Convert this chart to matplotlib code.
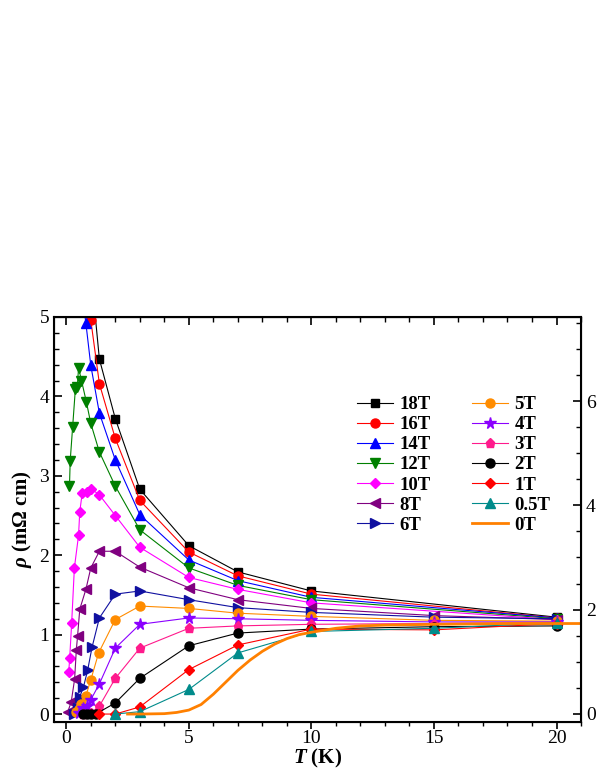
import matplotlib
matplotlib.use("Agg")
import matplotlib.pyplot as plt
from matplotlib.ticker import MultipleLocator

plt.rcParams["font.family"] = ["Liberation Serif", "DejaVu Serif"]
plt.rcParams["mathtext.fontset"] = "custom"
plt.rcParams["mathtext.rm"] = "Liberation Serif:bold"
plt.rcParams["mathtext.it"] = "Liberation Serif:italic:bold"

# resistivity (mOhm cm) vs temperature (K) for each field
t_18 = [1.0, 1.35, 2, 3, 5, 7, 10, 20]
r_18 = [5.6, 4.47, 3.72, 2.83, 2.12, 1.79, 1.55, 1.22]
t_16 = [0.8, 1.0, 1.35, 2, 3, 5, 7, 10, 20]
r_16 = [5.5, 4.96, 4.16, 3.47, 2.69, 2.04, 1.74, 1.51, 1.21]
t_14 = [0.6, 0.8, 1.0, 1.35, 2, 3, 5, 7, 10, 20]
r_14 = [5.4, 4.92, 4.39, 3.79, 3.20, 2.51, 1.94, 1.68, 1.47, 1.21]
t_12 = [0.13, 0.16, 0.26, 0.37, 0.45, 0.5, 0.62, 0.82, 1.0, 1.35, 2, 3, 5, 7, 10, 20]
r_12 = [2.87, 3.19, 3.62, 4.09, 4.12, 4.36, 4.2, 3.93, 3.66, 3.30, 2.87, 2.32, 1.84, 1.62, 1.44, 1.20]
t_10 = [0.1, 0.14, 0.22, 0.33, 0.5, 0.55, 0.65, 0.85, 1.0, 1.35, 2, 3, 5, 7, 10, 20]
r_10 = [0.53, 0.71, 1.15, 1.84, 2.25, 2.55, 2.78, 2.80, 2.84, 2.76, 2.50, 2.10, 1.72, 1.57, 1.40, 1.19]
t_8 = [0.05, 0.2, 0.34, 0.41, 0.46, 0.55, 0.8, 1.0, 1.35, 2, 3, 5, 7, 10, 15, 20]
r_8 = [0.02, 0.15, 0.44, 0.81, 0.98, 1.32, 1.57, 1.84, 2.05, 2.05, 1.85, 1.59, 1.44, 1.33, 1.24, 1.19]
t_6 = [0.3, 0.48, 0.54, 0.7, 0.87, 1.05, 1.35, 2, 3, 5, 7, 10, 15, 20]
r_6 = [0.0, 0.08, 0.21, 0.34, 0.55, 0.84, 1.21, 1.51, 1.55, 1.44, 1.34, 1.28, 1.22, 1.20]
t_5 = [0.4, 0.5, 0.62, 0.8, 1.0, 1.32, 2, 3, 5, 7, 10, 15, 20]
r_5 = [0.02, 0.06, 0.13, 0.23, 0.43, 0.77, 1.19, 1.36, 1.33, 1.27, 1.23, 1.18, 1.17]
t_4 = [0.5, 0.7, 0.85, 1.0, 1.35, 2, 3, 5, 7, 10, 15, 20]
r_4 = [0.01, 0.07, 0.1, 0.18, 0.38, 0.83, 1.13, 1.21, 1.20, 1.18, 1.16, 1.16]
t_3 = [0.7, 1.0, 1.35, 2, 3, 5, 7, 10, 15, 20]
r_3 = [0.0, 0.01, 0.1, 0.45, 0.83, 1.08, 1.11, 1.13, 1.14, 1.15]
t_2 = [0.7, 0.85, 1.0, 1.2, 2, 3, 5, 7, 10, 15, 20]
r_2 = [0.0, 0.0, 0.0, 0.0, 0.14, 0.45, 0.86, 1.02, 1.07, 1.10, 1.11]
t_1 = [1.35, 2, 3, 5, 7, 10, 15, 20]
r_1 = [0.0, 0.0, 0.09, 0.56, 0.87, 1.07, 1.06, 1.14]
t_05 = [2, 3, 5, 7, 10, 15, 20]
r_05 = [0.0, 0.03, 0.31, 0.77, 1.04, 1.08, 1.15]
t_0 = [2.5, 3, 4, 4.5, 5, 5.5, 6, 6.5, 7, 7.5, 8, 8.5, 9, 9.5, 10, 11, 12, 13, 15, 18, 21]
r_0 = [0.0, 0.0, 0.005, 0.02, 0.05, 0.12, 0.25, 0.4, 0.55, 0.68, 0.79, 0.88, 0.95, 1.0, 1.03, 1.08, 1.11, 1.12, 1.13, 1.14, 1.14]

series = [
    ("18T", t_18, r_18, "s", "black"),
    ("16T", t_16, r_16, "o", "red"),
    ("14T", t_14, r_14, "^", "blue"),
    ("12T", t_12, r_12, "v", "#008000"),
    ("10T", t_10, r_10, "D", "magenta"),
    ("8T", t_8, r_8, "<", "#800080"),
    ("6T", t_6, r_6, ">", "#1010A0"),
    ("5T", t_5, r_5, "o", "#FF8C00"),
    ("4T", t_4, r_4, "*", "#8B00FF"),
    ("3T", t_3, r_3, "p", "#FF1A8C"),
    ("2T", t_2, r_2, "o", "black"),
    ("1T", t_1, r_1, "D", "red"),
    ("0.5T", t_05, r_05, "^", "#008B8B"),
]

fig = plt.figure(figsize=(5.99, 7.76), dpi=100)
ax = fig.add_axes([0.0902, 0.0696, 0.8798, 0.5219])

for label, t, r, m, c in series:
    ms = {"*": 8.5, "D": 5.5, "s": 6}.get(m, 6.5)
    ax.plot(t, r, marker=m, color=c, lw=0.8, ms=ms, mec=c, label=label)

ax.plot(t_0, r_0, color="#FF8000", lw=2, label="0T")

ax.set_xlim(-0.5, 21)
ax.set_ylim(-0.1, 5)
ax.xaxis.set_major_locator(MultipleLocator(5))
ax.xaxis.set_minor_locator(MultipleLocator(1))
ax.yaxis.set_major_locator(MultipleLocator(1))
ax.yaxis.set_minor_locator(MultipleLocator(0.2))
ax.tick_params(axis="x", which="both", direction="out", top=False, labelsize=14, pad=1)
ax.tick_params(axis="y", which="both", direction="in", labelsize=14)
ax.tick_params(axis="x", which="major", length=5, width=1.2)
ax.tick_params(axis="x", which="minor", length=3, width=1)
ax.tick_params(axis="y", which="major", length=6, width=1.2)
ax.tick_params(axis="y", which="minor", length=3.5, width=1)
for s in ax.spines.values():
    s.set_linewidth(1.5)

# inward ticks on the top edge
top = ax.secondary_xaxis("top")
top.xaxis.set_major_locator(MultipleLocator(5))
top.xaxis.set_minor_locator(MultipleLocator(1))
top.tick_params(which="both", direction="in", labeltop=False)
top.tick_params(which="major", length=6, width=1.2)
top.tick_params(which="minor", length=3.5, width=1)

right = ax.twinx()
right.set_ylim(-0.16, 7.62)
right.yaxis.set_major_locator(MultipleLocator(2))
right.yaxis.set_minor_locator(MultipleLocator(0.5))
right.tick_params(which="both", direction="in", labelsize=14)
right.tick_params(which="major", length=6, width=1.2)
right.tick_params(which="minor", length=3.5, width=1)

ax.set_xlabel("$T$ (K)", fontsize=15, fontweight="bold", labelpad=0)
ax.set_ylabel(r"$\rho$ (mΩ cm)", fontsize=15, fontweight="bold")

ax.legend(ncol=2, loc="upper left", bbox_to_anchor=(0.575, 0.805), frameon=False,
          prop={"size": 13.5, "weight": "bold"}, handlelength=1.9,
          handletextpad=0.37, columnspacing=2.2, labelspacing=0.16,
          borderpad=0, borderaxespad=0)

fig.savefig("out.png", dpi=100)
